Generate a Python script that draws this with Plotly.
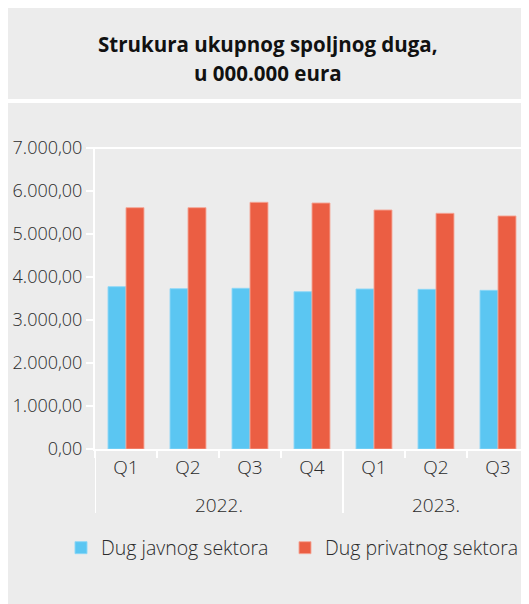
import plotly.graph_objects as go

years = ["2022.", "2022.", "2022.", "2022.", "2023.", "2023.", "2023."]
quarters = ["Q1", "Q2", "Q3", "Q4", "Q1", "Q2", "Q3"]
javni = [3775, 3728, 3737, 3658, 3721, 3713, 3690]
privatni = [5612, 5612, 5737, 5721, 5558, 5481, 5419]
series_names = ["Dug javnog sektora", "Dug privatnog sektora"]
title_lines = ["Strukura ukupnog spoljnog duga,", "u 000.000 eura"]

cats = [f"{y} {q}" for y, q in zip(years, quarters)]

OFF = 8  # page body margin
W, H = 529 - OFF, 604 - OFF
PL, PR, PT, PB = 95, 529, 148, 449
L, R, T, B = PL - OFF, (529 - PR), PT - OFF, H - (PB - OFF)
PW = W - L - R
PH = H - T - B

def px_x(px):
    return (px - OFF - L) / PW

def px_y(py):
    return (H - B - (py - OFF)) / PH

BLUE = "#5bc6f2"
RED = "#eb5e43"
PANEL = "#ececec"
TXT = "#2b2b2b"
FONT = "Open Sans"

fig = go.Figure()
fig.add_trace(go.Bar(x=cats, y=javni, name=series_names[0], legend="legend",
                     marker=dict(color=BLUE, line=dict(color="rgba(140,215,247,0.9)", width=1))))
fig.add_trace(go.Bar(x=cats, y=privatni, name=series_names[1], legend="legend2",
                     marker=dict(color=RED, line=dict(color="rgba(245,165,150,0.9)", width=1))))

shapes = [
    dict(type="rect", xref="paper", yref="paper", layer="below",
         x0=px_x(6), x1=px_x(540), y0=px_y(99), y1=px_y(7),
         fillcolor=PANEL, line=dict(width=0)),
    dict(type="rect", xref="paper", yref="paper", layer="below",
         x0=px_x(6), x1=px_x(540), y0=px_y(620), y1=px_y(103),
         fillcolor=PANEL, line=dict(width=0)),
    dict(type="line", xref="paper", yref="paper", layer="below",
         x0=px_x(88), x1=1.0, y0=1.0, y1=1.0,
         line=dict(color="white", width=2)),
]

# year group dividers and labels
groups = []
for i, y in enumerate(years):
    if not groups or groups[-1][0] != y:
        groups.append([y, i, i])
    else:
        groups[-1][2] = i

annotations = []
for y, i0, i1 in groups:
    shapes.append(dict(type="line", xref="x", yref="paper", layer="above",
                       x0=i0 - 0.5, x1=i0 - 0.5, y0=0, y1=px_y(513),
                       line=dict(color="white", width=2)))
    annotations.append(dict(text=y, x=(i0 + i1) / 2, y=px_y(505), xref="x", yref="paper",
                            showarrow=False, xanchor="center", yanchor="middle",
                            font=dict(family=FONT, size=19, color=TXT, weight=300)))

annotations += [
    dict(text="<b>" + title_lines[0] + "</b>", x=px_x(268), y=px_y(44), xref="paper", yref="paper",
         showarrow=False, xanchor="center", yanchor="middle",
         font=dict(family=FONT, size=20.5, color="#111")),
    dict(text="<b>" + title_lines[1] + "</b>", x=px_x(268), y=px_y(73), xref="paper", yref="paper",
         showarrow=False, xanchor="center", yanchor="middle",
         font=dict(family=FONT, size=20.5, color="#111")),
]

legend_common = dict(orientation="h", xanchor="left", yanchor="middle",
                     bgcolor="rgba(0,0,0,0)",
                     font=dict(family=FONT, size=19.5, color=TXT, weight=300))

fig.update_layout(
    width=W, height=H, autosize=False,
    margin=dict(l=L, r=R, t=T, b=B, pad=0),
    paper_bgcolor="white",
    plot_bgcolor="rgba(0,0,0,0)",
    separators=",.",
    barmode="group",
    bargap=0.42,
    bargroupgap=0,
    shapes=shapes,
    annotations=annotations,
    showlegend=True,
    legend=dict(x=px_x(61), y=px_y(548), **legend_common),
    legend2=dict(x=px_x(285), y=px_y(548), **legend_common),
    font=dict(family=FONT, color=TXT),
)

fig.update_yaxes(range=[0, 7000], dtick=1000, tickformat=",.2f",
                 showgrid=False, zeroline=False,
                 showline=True, linecolor="white", linewidth=2,
                 ticks="outside", ticklen=7, tickcolor="white", tickwidth=2,
                 tickfont=dict(family=FONT, size=18, color=TXT, weight=300))
fig.update_xaxes(type="category", showgrid=False, zeroline=False, range=[-0.5, 6.5],
                 tickmode="array", tickvals=cats, ticktext=quarters,
                 tickson="boundaries",
                 showline=True, linecolor="white", linewidth=2,
                 ticks="outside", ticklen=7, tickcolor="white", tickwidth=2,
                 tickfont=dict(family=FONT, size=19, color=TXT, weight=300))

fig.write_html("out.html")
